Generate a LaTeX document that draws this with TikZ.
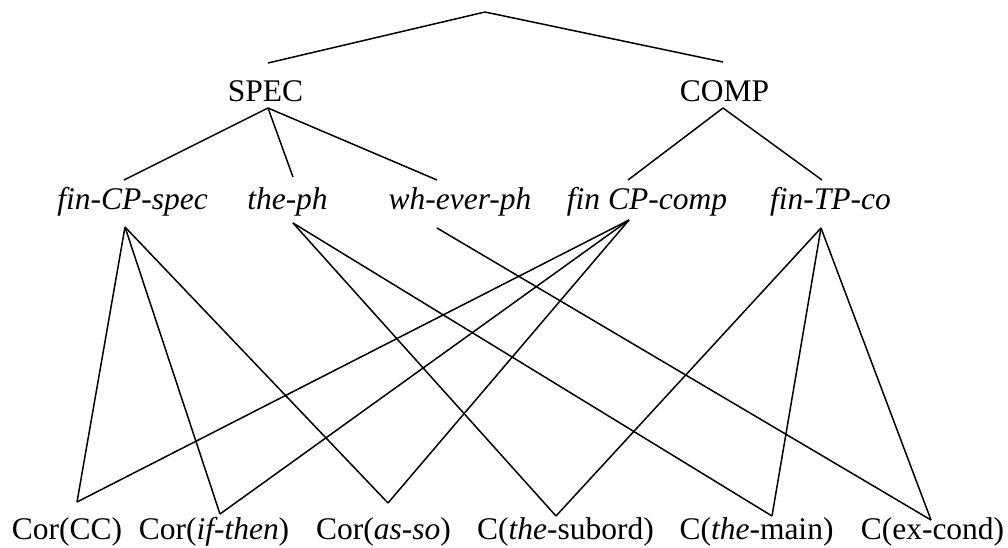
\documentclass[tikz,border=0pt]{standalone}
\usepackage{fontspec}
\setmainfont{Liberation Serif}
\begin{document}
\begin{tikzpicture}[x=0.5pt,y=-0.5pt,line width=0.75pt,
    lab/.style={anchor=base,inner sep=0pt,font=\fontsize{15.75}{19}\selectfont}]
  \useasboundingbox (0,0) rectangle (1008,547);
  \draw
    (265.5,101) node[lab] (spec){SPEC}
    (724.5,101) node[lab] (comp){COMP}
    (132.5,209) node[lab] (fincpspec){\textit{fin-CP-spec}}
    (287.5,209) node[lab] (theph){\textit{the-ph}}
    (460,209) node[lab] (wheverph){\textit{wh-ever-ph}}
    (647,209) node[lab] (fincpcomp){\textit{fin CP-comp}}
    (830.5,209) node[lab] (fintpco){\textit{fin-TP-co}}
    (67,539) node[lab] (corcc){Cor(CC)}
    (214,539) node[lab] (corifthen){Cor(\textit{if-then})}
    (383.5,539) node[lab] (corasso){Cor(\textit{as-so})}
    (565.5,539) node[lab] (csubord){C(\textit{the}-subord)}
    (756.5,539) node[lab] (cmain){C(\textit{the}-main)}
    (932.5,539) node[lab] (cexcond){C(ex-cond)};
  % where the branches meet
  \coordinate (root) at (485,12);
  \coordinate (spec-t) at (268,63);
  \coordinate (spec-b) at (268,108);
  \coordinate (comp-t) at (723,62);
  \coordinate (comp-b) at (723,108);
  \coordinate (fincpspec-t) at (124,180);
  \coordinate (fincpspec-b) at (125,227);
  \coordinate (theph-t) at (293,177);
  \coordinate (theph-b) at (293,223);
  \coordinate (wheverph-t) at (437,180);
  \coordinate (wheverph-b) at (437,228);
  \coordinate (fincpcomp-t) at (628,180);
  \coordinate (fincpcomp-b) at (629,220);
  \coordinate (fintpco-t) at (822,180);
  \coordinate (fintpco-b) at (821,228);
  \coordinate (corcc-t) at (77,502);
  \coordinate (corifthen-t) at (220,514);
  \coordinate (corasso-t) at (388,503);
  \coordinate (csubord-t) at (556,516);
  \coordinate (cmain-t) at (772,516);
  \coordinate (cexcond-t) at (931,520);
  \begin{scope}[-]
    \draw (root) to (spec-t);
    \draw (root) to (comp-t);
    \draw (spec-b) to (fincpspec-t);
    \draw (spec-b) to (theph-t);
    \draw (spec-b) to (wheverph-t);
    \draw (comp-b) to (fincpcomp-t);
    \draw (comp-b) to (fintpco-t);
    \draw (fincpspec-b) to (corcc-t);
    \draw (fincpspec-b) to (corifthen-t);
    \draw (fincpspec-b) to (corasso-t);
    \draw (theph-b) to (csubord-t);
    \draw (theph-b) to (cmain-t);
    \draw (wheverph-b) to (cexcond-t);
    \draw (fincpcomp-b) to (corcc-t);
    \draw (fincpcomp-b) to (corifthen-t);
    \draw (fincpcomp-b) to (corasso-t);
    \draw (fintpco-b) to (csubord-t);
    \draw (fintpco-b) to (cmain-t);
    \draw (fintpco-b) to (cexcond-t);
  \end{scope}
\end{tikzpicture}
\end{document}
